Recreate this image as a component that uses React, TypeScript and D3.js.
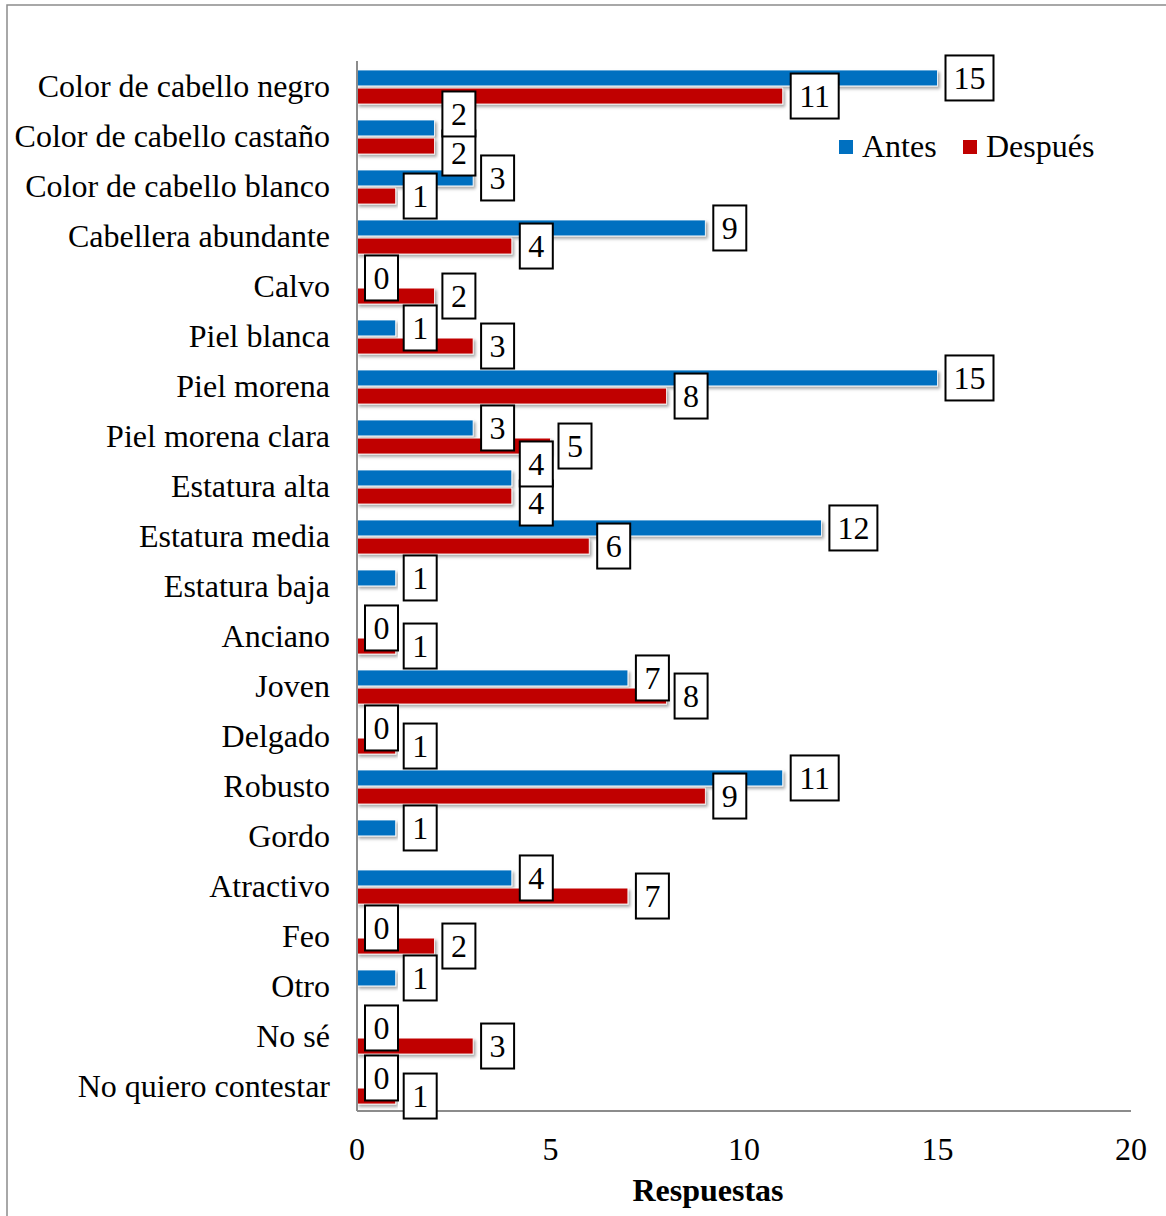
import React from "react";
import * as d3 from "d3";

const categories = [
  "Color de cabello negro",
  "Color de cabello castaño",
  "Color de cabello blanco",
  "Cabellera abundante",
  "Calvo",
  "Piel blanca",
  "Piel morena",
  "Piel morena clara",
  "Estatura alta",
  "Estatura media",
  "Estatura baja",
  "Anciano",
  "Joven",
  "Delgado",
  "Robusto",
  "Gordo",
  "Atractivo",
  "Feo",
  "Otro",
  "No sé",
  "No quiero contestar",
];

const antes: (number | null)[] = [15, 2, 3, 9, 0, 1, 15, 3, 4, 12, 1, 0, 7, 0, 11, 1, 4, 0, 1, 0, 0];
const despues: (number | null)[] = [11, 2, 1, 4, 2, 3, 8, 5, 4, 6, null, 1, 8, 1, 9, null, 7, 2, null, 3, 1];

const seriesNames = ["Antes", "Después"];
const seriesColors = ["#0070C0", "#C00000"];
const xTicks = [0, 5, 10, 15, 20];
const xTitle = "Respuestas";

const W = 1166;
const H = 1216;
const FONT = "'Liberation Serif', 'Times New Roman', Times, serif";

export default function App() {
  const x = d3.scaleLinear().domain([0, 20]).range([357, 1131]);
  const y = d3
    .scaleBand<string>()
    .domain(categories)
    .range([62, 1112])
    .paddingInner(0.32)
    .paddingOuter(0.16);
  const inner = d3
    .scaleBand<string>()
    .domain(seriesNames)
    .range([0, y.bandwidth()])
    .paddingInner(0.118);

  const series = [antes, despues];

  type Lab = { key: string; x: number; cy: number; text: string; s: number };
  const labels: Lab[] = [];
  categories.forEach((c, i) => {
    series.forEach((vals, s) => {
      const v = vals[i];
      if (v === null || v === undefined) return;
      const cy = (y(c) as number) + (inner(seriesNames[s]) as number) + inner.bandwidth() / 2;
      let dy = 0;
      const other = series[1 - s][i];
      if (other !== null && other !== undefined && other === v) {
        dy = s === 0 ? -14 : 7;
      }
      labels.push({ key: `${s}-${i}`, x: x(v) + 8, cy: cy + dy, text: String(v), s });
    });
  });
  // draw Después labels first, Antes on top
  const orderedLabels = [...labels.filter((l) => l.s === 1), ...labels.filter((l) => l.s === 0)];

  return (
    <div style={{ position: "absolute", left: 0, top: 0 }}>
      <svg width={W} height={H} style={{ display: "block", background: "#fff" }} fontFamily={FONT}>
        <defs>
          <filter id="shadow" x="-5%" y="-50%" width="110%" height="200%">
            <feDropShadow dx="2" dy="2.5" stdDeviation="1.6" floodColor="#000" floodOpacity="0.35" />
          </filter>
        </defs>
        <rect x={7} y={5} width={W + 10} height={H + 10} fill="#fff" stroke="#8c8c8c" strokeWidth={1.5} />

        {/* bars */}
        {categories.map((c, i) =>
          series.map((vals, s) => {
            const v = vals[i];
            if (v === null || v === undefined || v === 0) return null;
            const by = (y(c) as number) + (inner(seriesNames[s]) as number);
            return (
              <rect
                key={`b-${s}-${i}`}
                x={x(0)}
                y={by}
                width={x(v) - x(0)}
                height={inner.bandwidth()}
                fill={seriesColors[s]}
                stroke="#fff"
                strokeWidth={0.8}
                filter="url(#shadow)"
              />
            );
          })
        )}

        {/* axes */}
        <line x1={x(0)} x2={x(0)} y1={61} y2={1111} stroke="#8c8c8c" strokeWidth={2} />
        <line x1={x(0)} x2={x(20)} y1={1111} y2={1111} stroke="#8c8c8c" strokeWidth={2} />

        {/* category labels */}
        {categories.map((c) => (
          <text
            key={`c-${c}`}
            x={330}
            y={(y(c) as number) + y.bandwidth() / 2 + 10}
            textAnchor="end"
            fontSize={32}
            fill="#000"
          >
            {c}
          </text>
        ))}

        {/* x tick labels */}
        {xTicks.map((t) => (
          <text key={`t-${t}`} x={x(t)} y={1160} textAnchor="middle" fontSize={32} fill="#000">
            {t}
          </text>
        ))}
        <text x={708} y={1201} textAnchor="middle" fontSize={32} fontWeight="bold" fill="#000">
          {xTitle}
        </text>

        {/* data labels */}
        {orderedLabels.map((l) => {
          const w = l.text.length > 1 ? 48 : 33;
          return (
            <g key={`l-${l.key}`}>
              <rect x={l.x} y={l.cy - 22.5} width={w} height={45} fill="#fff" stroke="#000" strokeWidth={2} />
              <text x={l.x + w / 2} y={l.cy + 11} textAnchor="middle" fontSize={32} fill="#000">
                {l.text}
              </text>
            </g>
          );
        })}

        {/* legend */}
        {seriesNames.map((n, s) => {
          const lx = s === 0 ? 839 : 963;
          return (
            <g key={`lg-${n}`}>
              <rect x={lx} y={140} width={14} height={14} fill={seriesColors[s]} />
              <text x={lx + 23} y={157} fontSize={32} fill="#000">
                {n}
              </text>
            </g>
          );
        })}
      </svg>
    </div>
  );
}
